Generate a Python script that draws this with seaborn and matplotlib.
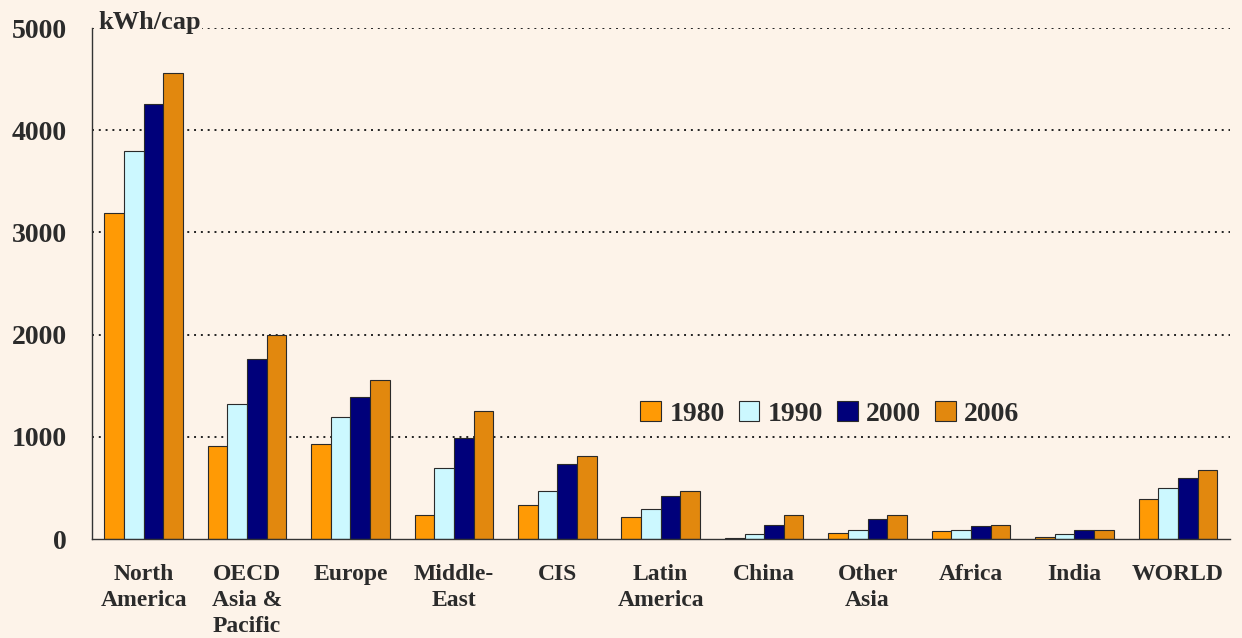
import pandas as pd
import matplotlib.pyplot as plt
import seaborn as sns
import numpy as np

regions = ["North\nAmerica", "OECD\nAsia &\nPacific", "Europe", "Middle-\nEast", "CIS",
           "Latin\nAmerica", "China", "Other\nAsia", "Africa", "India", "WORLD"]
years = ["1980", "1990", "2000", "2006"]
v1980 = [3190, 910, 935, 240, 330, 215, 15, 55, 82, 16, 395]
v1990 = [3800, 1325, 1195, 700, 470, 295, 50, 92, 90, 50, 500]
v2000 = [4255, 1765, 1395, 985, 730, 420, 138, 197, 124, 88, 598]
v2006 = [4565, 2000, 1557, 1255, 813, 466, 240, 240, 138, 88, 680]

colors = ["#FF9A05", "#CCF8FF", "#00007A", "#E2880E"]
bg = "#FDF3E9"

df = pd.DataFrame({"region": regions * 4,
                   "year": np.repeat(years, len(regions)),
                   "value": v1980 + v1990 + v2000 + v2006})

sns.set_style("white")
plt.rcParams["font.family"] = ["Liberation Serif", "DejaVu Serif"]
plt.rcParams["font.weight"] = "bold"

fig = plt.figure(figsize=(12.42, 6.38), dpi=100, facecolor=bg)
ax = fig.add_axes([0.074, 0.155, 0.916, 0.801])
ax.set_facecolor(bg)

sns.barplot(data=df, x="region", y="value", hue="year", palette=colors, width=0.76,
            saturation=1, edgecolor="#2a2a2a", linewidth=0.8, ax=ax, zorder=3)

ax.set_ylim(0, 5000)
ax.set_xlim(-0.5, len(regions) - 0.5)
ax.set_yticks([0, 1000, 2000, 3000, 4000, 5000])
ax.set_yticklabels(["0", "1000", "2000", "3000", "4000", "5000"], fontsize=20,
                   fontweight="bold", color="#2b2b2b")
ax.set_xticks(range(len(regions)))
ax.set_xticklabels(regions, fontsize=17, fontweight="bold", color="#2b2b2b", linespacing=1.3)
ax.tick_params(axis="x", which="major", length=0, pad=18)
ax.set_xticks(np.arange(-0.5, len(regions), 1.0), minor=True)
ax.tick_params(axis="x", which="minor", length=4, direction="out", color="#333333", width=0.8)
ax.tick_params(axis="y", length=4, direction="out", color="#333333", width=0.8, pad=14)
ax.set_xlabel("")
ax.set_ylabel("")

for y in [1000, 2000, 3000, 4000, 5000]:
    ax.axhline(y, color="#222222", linestyle=(0, (1, 2.5)), linewidth=1.4, zorder=1)

for s in ["top", "right"]:
    ax.spines[s].set_visible(False)
for s in ["left", "bottom"]:
    ax.spines[s].set_color("#333333")
    ax.spines[s].set_linewidth(1.0)
    ax.spines[s].set_zorder(4)

ax.text(-0.44, 4940, "kWh/cap", fontsize=19, fontweight="bold", color="#2b2b2b",
        ha="left", va="bottom", zorder=5,
        bbox=dict(facecolor=bg, edgecolor="none", pad=1))

leg = ax.legend(loc="center left", bbox_to_anchor=(0.46, 0.245), ncol=4, frameon=False,
                handlelength=0.75, handleheight=0.75, handletextpad=0.3, columnspacing=0.5,
                prop={"family": "Liberation Serif", "weight": "bold", "size": 20})
for t in leg.get_texts():
    t.set_color("#2b2b2b")

plt.savefig("out.png", dpi=100, facecolor=bg)
